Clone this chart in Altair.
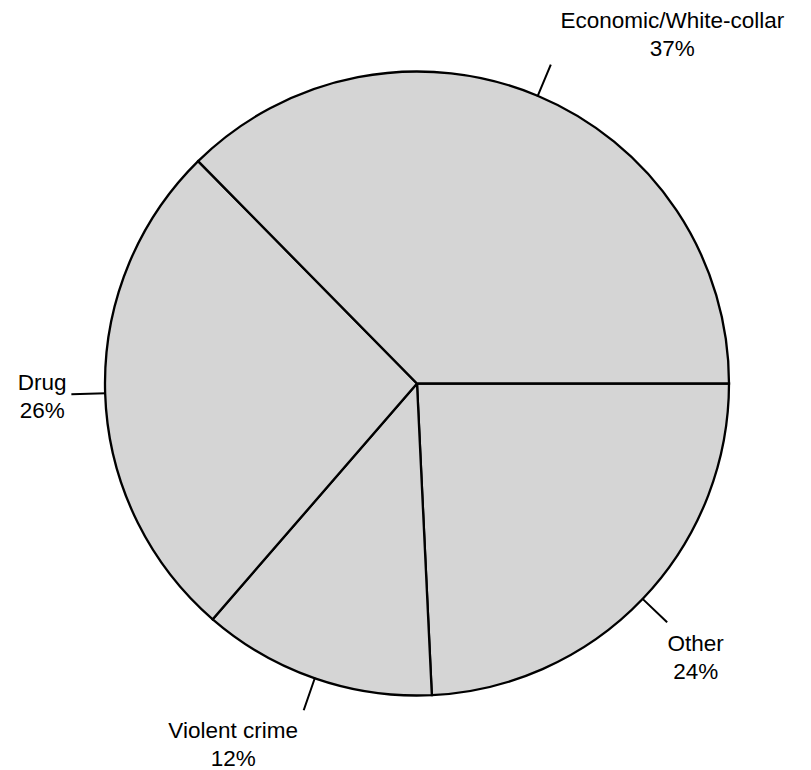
import math
import altair as alt
import pandas as pd

# ---- data ----
categories = ["Other", "Violent crime", "Drug", "Economic/White-collar"]
percents = [24, 12, 26, 37]
order = [0, 1, 2, 3]

df = pd.DataFrame({"category": categories, "percent": percents, "order": order})
total = sum(percents)

CX, CY = 417, 383.5
R = 312
R_LEAD = 345
FILL = "#d5d5d5"
FONT = "Liberation Sans"

theta_scale = alt.Scale(domain=[0, total], range=[math.pi / 2, math.pi / 2 + 2 * math.pi])

base = (
    alt.Chart(df)
    .transform_window(cum="sum(percent)", sort=[alt.SortField("order")], frame=[None, 0])
    .transform_calculate(
        start="datum.cum - datum.percent",
        mid="datum.cum - datum.percent / 2",
        mid2="datum.cum - datum.percent / 2 + 0.02",
        label="datum.category + '\\n' + datum.percent + '%'",
    )
)

slices = base.mark_arc(radius=R, fill=FILL, stroke="black", strokeWidth=2.3).encode(
    theta=alt.Theta("start:Q", scale=theta_scale),
    theta2="cum:Q",
    x=alt.value(CX),
    y=alt.value(CY),
)

leaders = base.mark_arc(
    radius=R, radius2=R_LEAD, fillOpacity=0, stroke="black", strokeWidth=1.6
).encode(
    theta=alt.Theta("mid:Q", scale=theta_scale),
    theta2="mid2:Q",
    x=alt.value(CX),
    y=alt.value(CY),
)

offsets = {
    "Other": (29, 29),
    "Violent crime": (-71, 28),
    "Drug": (-30, -4),
    "Economic/White-collar": (122, -37),
}

label_layers = []
for cat in categories:
    ddx, ddy = offsets[cat]
    label_layers.append(
        base.transform_filter(alt.datum.category == cat)
        .mark_text(
            radius=R_LEAD,
            dx=ddx,
            dy=ddy,
            align="center",
            baseline="alphabetic",
            font=FONT,
            fontSize=22.5,
            lineHeight=28,
            lineBreak="\n",
            color="black",
        )
        .encode(
            theta=alt.Theta("mid:Q", scale=theta_scale),
            text="label:N",
            x=alt.value(CX),
            y=alt.value(CY),
        )
    )

chart = (
    alt.layer(slices, leaders, *label_layers)
    .properties(width=811, height=770, autosize=alt.AutoSizeParams(type="none"), padding=0, background="white")
    .configure_view(stroke=None)
)

chart.save("out.html", embed_options={"renderer": "svg", "actions": False})
